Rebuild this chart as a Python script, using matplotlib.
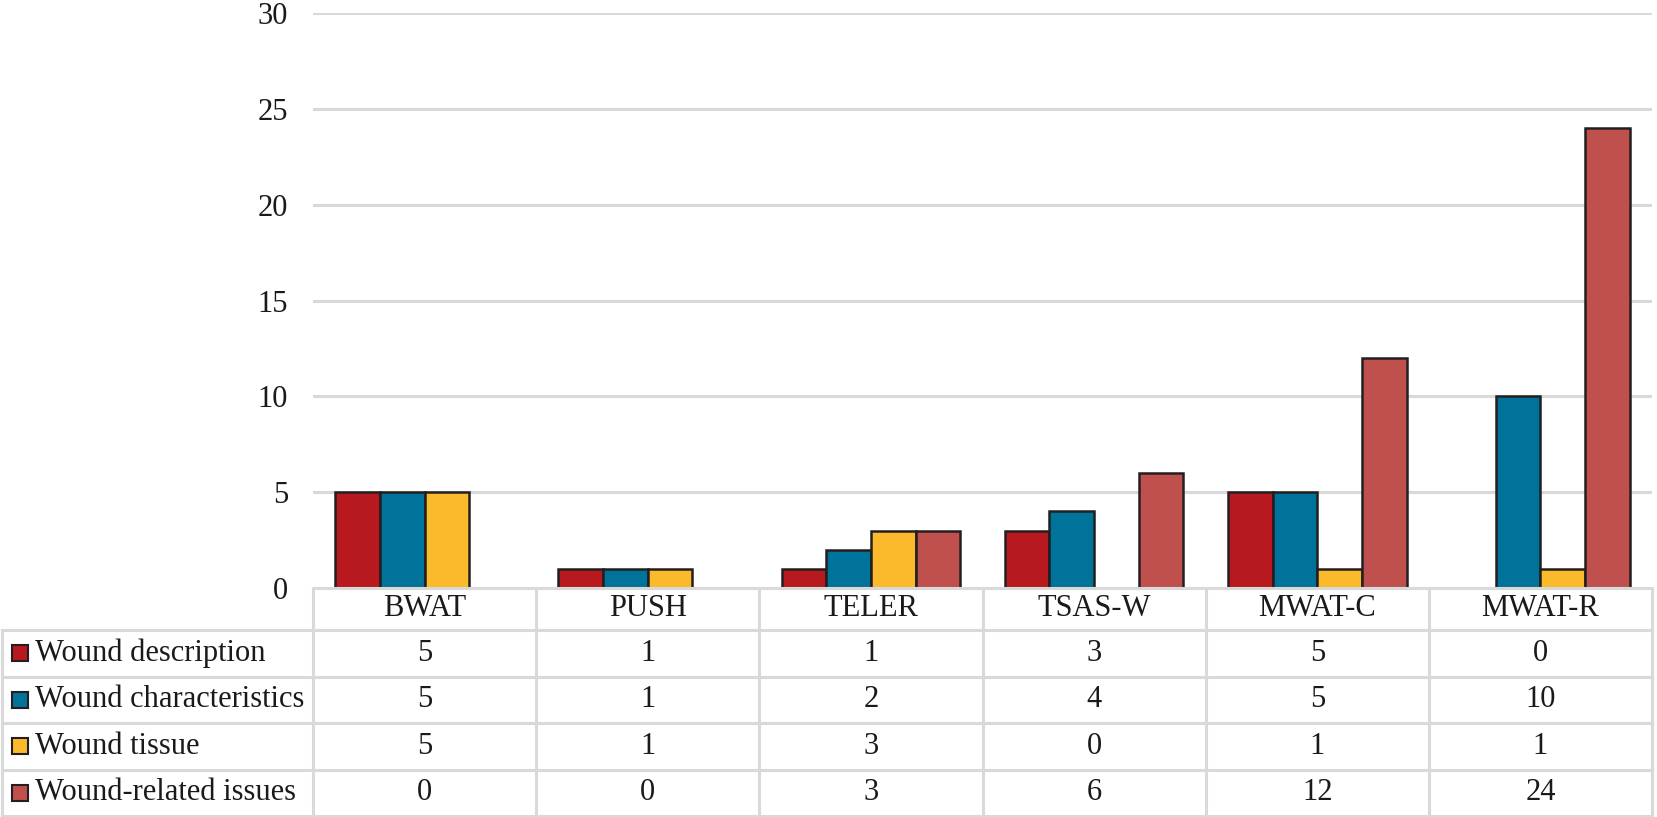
import matplotlib
matplotlib.use("Agg")
from matplotlib import pyplot as plt
import numpy as np

categories = ["BWAT", "PUSH", "TELER", "TSAS-W", "MWAT-C", "MWAT-R"]
series_names = ["Wound description", "Wound characteristics",
                "Wound tissue", "Wound-related issues"]
wound_description = [5, 1, 1, 3, 5, 0]
wound_characteristics = [5, 1, 2, 4, 5, 10]
wound_tissue = [5, 1, 3, 0, 1, 1]
wound_related_issues = [0, 0, 3, 6, 12, 24]
yticks = [0, 5, 10, 15, 20, 25, 30]

colors = ["#B7191F", "#00739B", "#FBBA2B", "#C0504D"]

plt.rcParams['font.family'] = ['Liberation Serif', 'DejaVu Serif']
TXT = "#1a1a1a"
GRID = "#D9D9D9"
FS = 22

W, H = 1658, 817
fig = plt.figure(figsize=(W / 100, H / 100), dpi=100)

# plot area (pixel layout)
ax_l, ax_r, ax_t, ax_b = 313, 1652, 13, 588
ax = fig.add_axes([ax_l / W, 1 - ax_b / H, (ax_r - ax_l) / W, (ax_b - ax_t) / H])

all_series = [wound_description, wound_characteristics, wound_tissue, wound_related_issues]
x = np.arange(len(categories))
bw = 0.2
for i, (vals, c) in enumerate(zip(all_series, colors)):
    bars = ax.bar(x + (i - 1.5) * bw, vals, bw, color=c, edgecolor="#231F20",
                  linewidth=1.8, zorder=3)
    for b, v in zip(bars, vals):
        if v == 0:
            b.set_visible(False)

ax.set_xlim(-0.5, len(categories) - 0.5)
ax.set_ylim(0, 30)
ax.set_yticks(yticks)
ax.set_xticks([])
ax.yaxis.grid(True, color=GRID, linewidth=2.2, zorder=0)
ax.tick_params(axis='y', length=0, pad=18, labelsize=FS, labelcolor=TXT)
for s in ax.spines.values():
    s.set_visible(False)

# data table below the plot
t_l, t_b = 2, 816
tax = fig.add_axes([t_l / W, 1 - t_b / H, (ax_r - t_l) / W, (t_b - ax_b) / H])
cat_px = (ax_r - ax_l) / len(categories)
label_w = (ax_l - t_l) / cat_px
left = -0.5 - label_w
right = len(categories) - 0.5
tax.set_xlim(left, right)
tax.set_ylim(t_b - ax_b, 0)
tax.axis("off")

rows = [0, 42, 88.5, 135, 181.5, 228]
lw = 2.2
tax.plot([-0.5, right], [rows[0], rows[0]], color=GRID, lw=lw, clip_on=False)
for yy in rows[1:]:
    tax.plot([left, right], [yy, yy], color=GRID, lw=lw, clip_on=False)
tax.plot([left, left], [rows[1], rows[-1]], color=GRID, lw=lw, clip_on=False)
for k in range(len(categories) + 1):
    tax.plot([k - 0.5, k - 0.5], [rows[0], rows[-1]], color=GRID, lw=lw, clip_on=False)

for k, cat in enumerate(categories):
    tax.text(k, (rows[0] + rows[1]) / 2, cat, ha="center", va="center",
             fontsize=FS, color=TXT)

for r, (name, vals, c) in enumerate(zip(series_names, all_series, colors)):
    yc = (rows[r + 1] + rows[r + 2]) / 2
    tax.plot(left + 17.5 / cat_px, yc, marker="s", markersize=12,
             markerfacecolor=c, markeredgecolor="#231F20", markeredgewidth=1.5,
             clip_on=False)
    tax.text(left + 33 / cat_px, yc, name, ha="left", va="center",
             fontsize=FS, color=TXT)
    for k, v in enumerate(vals):
        tax.text(k, yc, str(v), ha="center", va="center", fontsize=FS, color=TXT)

fig.savefig("out.png", dpi=100)
